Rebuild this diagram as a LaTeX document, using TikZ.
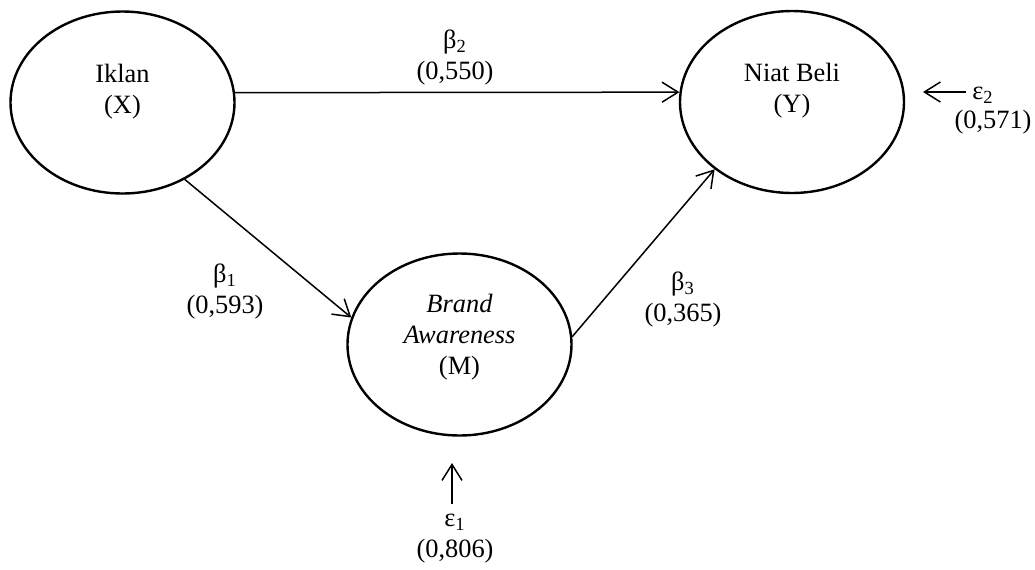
\documentclass[tikz,border=0pt]{standalone}
\usepackage{fontspec}
\setmainfont{Liberation Serif}
\usetikzlibrary{arrows.meta,shapes.geometric}

\begin{document}
\begin{tikzpicture}[x=0.5pt,y=-0.5pt,
  construct/.style={shape=ellipse,draw,line width=1.2pt,minimum width=112pt,minimum height=91pt,inner sep=0pt},
  link/.style={-{Straight Barb[length=8pt,width=10pt]},line width=0.75pt},
  coef/.style={align=center,inner sep=1pt,font=\fontsize{13.2}{15.5}\selectfont}]
  \useasboundingbox (0,0) rectangle (1035,569);
  % variables
  \node[construct] (X) at (122.5,102.5) {};
  \node[construct] (Y) at (792,102) {};
  \node[construct] (M) at (459.5,344.5) {};
  \node[coef] (Xt) at (122.5,91.5) {Iklan\\(X)};
  \node[coef] (Yt) at (792,91) {Niat Beli\\(Y)};
  \node[coef] (Mt) at (459.5,337.5) {\textit{Brand}\\\textit{Awareness}\\(M)};
  % paths
  \draw[link] (X.5) -- (Y.175);
  \draw[link] (X.-51) -- (M.166);
  \draw[link] (M.4) -- (Y.221);
  \node[coef] (b2) at (455,58) {β\textsubscript{2}\\(0,550)};
  \node[coef] (b1) at (225,292) {β\textsubscript{1}\\(0,593)};
  \node[coef] (b3) at (683,300) {β\textsubscript{3}\\(0,365)};
  % errors
  \node[coef] (e1) at (455,539) {ε\textsubscript{1}\\(0,806)};
  \coordinate (e1tip) at (452,463);
  \draw[link,shorten <=4pt] (e1.north -| e1tip) -- (e1tip);
  \node[coef] (e2) at (983,95) {ε\textsubscript{2}};
  \node[coef] (e2v) at (993,122) {(0,571)};
  \coordinate (e2tip) at (923,92);
  \draw[link,shorten <=2pt] (e2.west |- e2tip) -- (e2tip);
\end{tikzpicture}
\end{document}
